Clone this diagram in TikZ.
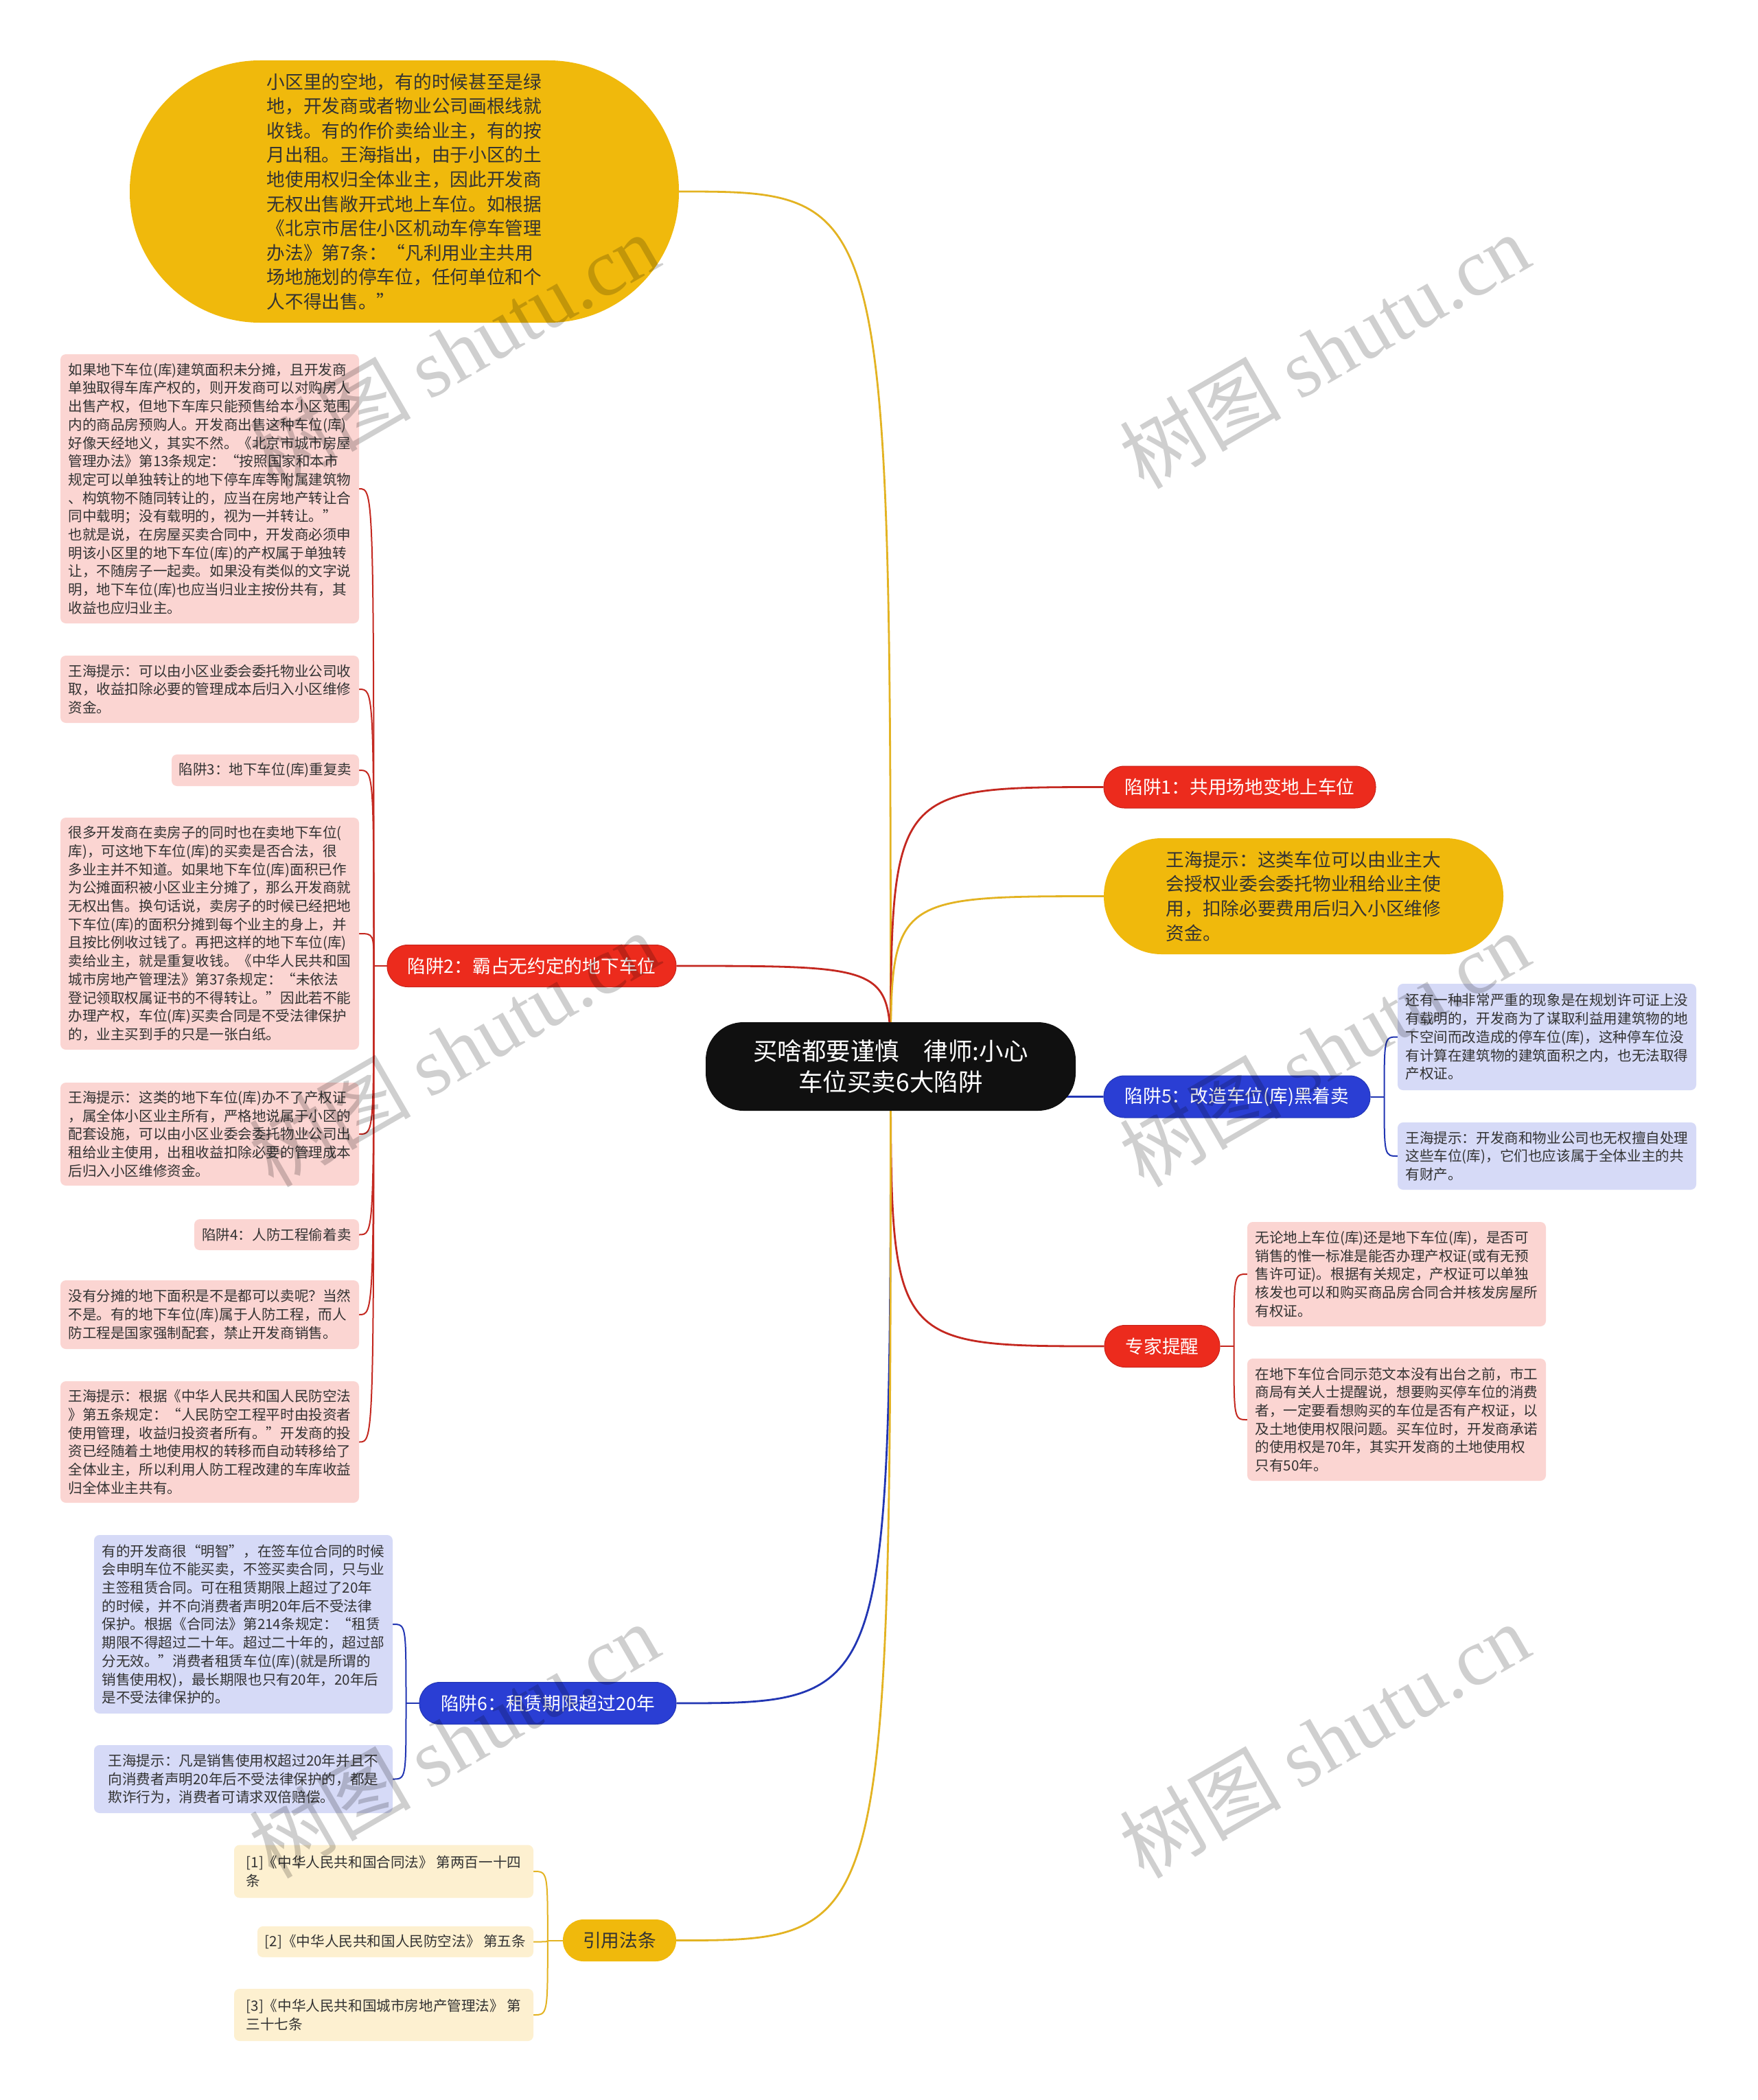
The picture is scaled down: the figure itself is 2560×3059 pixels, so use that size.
\documentclass[tikz,border=0pt]{standalone}
\usepackage{fontspec}
\setmainfont{Noto Sans CJK SC}
\newfontfamily\wmlatin{Liberation Serif}
\usetikzlibrary{calc}
\definecolor{redfill}{HTML}{EC2B1D}
\definecolor{rededge}{HTML}{C9231A}
\definecolor{redline}{HTML}{C42820}
\definecolor{ylwfill}{HTML}{F0B90C}
\definecolor{ylwline}{HTML}{E3B322}
\definecolor{bluefill}{HTML}{2A3ED4}
\definecolor{blueline}{HTML}{2236B3}
\definecolor{pinkfill}{HTML}{FBD5D2}
\definecolor{lavfill}{HTML}{D6DAF7}
\definecolor{creamfill}{HTML}{FDF0D0}
\definecolor{rootfill}{HTML}{101010}
\definecolor{txtdark}{HTML}{333333}
\newcommand\txtS{\fontsize{20.6pt}{26.7pt}\selectfont}
\newcommand\txtM{\fontsize{26.7pt}{35.6pt}\selectfont}
\newcommand\txtR{\fontsize{35.5pt}{45.5pt}\selectfont}
\pgfdeclarelayer{paper}
\pgfdeclarelayer{links}
\pgfsetlayers{paper,links,main}
\begin{document}
\begin{tikzpicture}[x=1pt,y=-1pt,
  rootn/.style={fill=rootfill,text=white,rounded corners=55pt,align=center,font=\txtR,inner sep=0pt},
  ybig/.style={fill=ylwfill,text=txtdark,align=left,font=\txtM,inner sep=0pt},
  pillred/.style={fill=redfill,draw=rededge,line width=1pt,text=white,rounded corners=30pt,font=\txtM,inner sep=0pt,minimum height=61pt},
  pillblue/.style={fill=bluefill,draw=blueline,line width=1pt,text=white,rounded corners=30pt,font=\txtM,inner sep=0pt,minimum height=61pt},
  pillylw/.style={fill=ylwfill,text=txtdark,rounded corners=30pt,font=\txtM,inner sep=0pt,minimum height=61pt},
  pinkbox/.style={fill=pinkfill,text=txtdark,rounded corners=8pt,align=left,font=\txtS,inner sep=0pt},
  lavbox/.style={fill=lavfill,text=txtdark,rounded corners=8pt,align=left,font=\txtS,inner sep=0pt},
  creambox/.style={fill=creamfill,text=txtdark,rounded corners=8pt,align=left,font=\txtS,inner sep=0pt},
  rootln/.style={line width=2.8pt},
  subln/.style={line width=2pt},
  wm/.style={rotate=30,text=black,text opacity=0.19,font=\fontsize{118pt}{118pt}\selectfont,inner sep=0pt}
]
\useasboundingbox (0,0) rectangle (2560,3059);
\begin{pgfonlayer}{paper}
\fill[white] (0,0) rectangle (2560,3059);
\end{pgfonlayer}

% root
\node[rootn,minimum width=539pt,minimum height=129pt] (root) at (1297.5,1553.5) {买啥都要谨慎　律师:小心\\车位买卖6大陷阱};

% top yellow
\node[ybig,minimum width=800pt,minimum height=382pt,rounded corners=190pt] (Y0) at (589,279) {小区里的空地，有的时候甚至是绿\\地，开发商或者物业公司画根线就\\收钱。有的作价卖给业主，有的按\\月出租。王海指出，由于小区的土\\地使用权归全体业主，因此开发商\\无权出售敞开式地上车位。如根据\\《北京市居住小区机动车停车管理\\办法》第7条：“凡利用业主共用\\场地施划的停车位，任何单位和个\\人不得出售。”};

% right side
\node[pillred,minimum width=396pt] (R1) at (1806,1146.5) {陷阱1：共用场地变地上车位};
\node[ybig,minimum width=582pt,minimum height=169pt,rounded corners=84pt] (Y1) at (1899,1305.5) {王海提示：这类车位可以由业主大\\会授权业委会委托物业租给业主使\\用，扣除必要费用后归入小区维修\\资金。};
\node[pillblue,minimum width=388pt] (B5) at (1802,1597.5) {陷阱5：改造车位(库)黑着卖};
\node[lavbox,minimum width=435pt,minimum height=155pt] (B5a) at (2253.5,1510.5) {还有一种非常严重的现象是在规划许可证上没\\有载明的，开发商为了谋取利益用建筑物的地\\下空间而改造成的停车位(库)，这种停车位没\\有计算在建筑物的建筑面积之内，也无法取得\\产权证。};
\node[lavbox,minimum width=435pt,minimum height=98pt] (B5b) at (2253.5,1684) {王海提示：开发商和物业公司也无权擅自处理\\这些车位(库)，它们也应该属于全体业主的共\\有财产。};
\node[pillred,minimum width=168pt] (E) at (1693,1961) {专家提醒};
\node[pinkbox,minimum width=435pt,minimum height=152pt] (Ea) at (2034.5,1856) {无论地上车位(库)还是地下车位(库)，是否可\\销售的惟一标准是能否办理产权证(或有无预\\售许可证)。根据有关规定，产权证可以单独\\核发也可以和购买商品房合同合并核发房屋所\\有权证。};
\node[pinkbox,minimum width=435pt,minimum height=178pt] (Eb) at (2034.5,2068) {在地下车位合同示范文本没有出台之前，市工\\商局有关人士提醒说，想要购买停车位的消费\\者，一定要看想购买的车位是否有产权证，以\\及土地使用权限问题。买车位时，开发商承诺\\的使用权是70年，其实开发商的土地使用权\\只有50年。};

% left: trap 2
\node[pillred,minimum width=421pt] (P2) at (774.5,1407) {陷阱2：霸占无约定的地下车位};
\node[pinkbox,minimum width=435pt,minimum height=392pt] (L1) at (305.5,712) {如果地下车位(库)建筑面积未分摊，且开发商\\单独取得车库产权的，则开发商可以对购房人\\出售产权，但地下车库只能预售给本小区范围\\内的商品房预购人。开发商出售这种车位(库)\\好像天经地义，其实不然。《北京市城市房屋\\管理办法》第13条规定：“按照国家和本市\\规定可以单独转让的地下停车库等附属建筑物\\、构筑物不随同转让的，应当在房地产转让合\\同中载明；没有载明的，视为一并转让。”\\也就是说，在房屋买卖合同中，开发商必须申\\明该小区里的地下车位(库)的产权属于单独转\\让，不随房子一起卖。如果没有类似的文字说\\明，地下车位(库)也应当归业主按份共有，其\\收益也应归业主。};
\node[pinkbox,minimum width=435pt,minimum height=98pt] (L2) at (305.5,1004) {王海提示：可以由小区业委会委托物业公司收\\取，收益扣除必要的管理成本后归入小区维修\\资金。};
\node[pinkbox,minimum width=273pt,minimum height=46pt] (L3) at (386.5,1122) {陷阱3：地下车位(库)重复卖};
\node[pinkbox,minimum width=435pt,minimum height=338pt] (L4) at (305.5,1360) {很多开发商在卖房子的同时也在卖地下车位(\\库)，可这地下车位(库)的买卖是否合法，很\\多业主并不知道。如果地下车位(库)面积已作\\为公摊面积被小区业主分摊了，那么开发商就\\无权出售。换句话说，卖房子的时候已经把地\\下车位(库)的面积分摊到每个业主的身上，并\\且按比例收过钱了。再把这样的地下车位(库)\\卖给业主，就是重复收钱。《中华人民共和国\\城市房地产管理法》第37条规定：“未依法\\登记领取权属证书的不得转让。”因此若不能\\办理产权，车位(库)买卖合同是不受法律保护\\的，业主买到手的只是一张白纸。};
\node[pinkbox,minimum width=435pt,minimum height=150pt] (L5) at (305.5,1652) {王海提示：这类的地下车位(库)办不了产权证\\，属全体小区业主所有，严格地说属于小区的\\配套设施，可以由小区业委会委托物业公司出\\租给业主使用，出租收益扣除必要的管理成本\\后归入小区维修资金。};
\node[pinkbox,minimum width=240pt,minimum height=45pt] (L6) at (403,1798.5) {陷阱4：人防工程偷着卖};
\node[pinkbox,minimum width=435pt,minimum height=100pt] (L7) at (305.5,1915) {没有分摊的地下面积是不是都可以卖呢？当然\\不是。有的地下车位(库)属于人防工程，而人\\防工程是国家强制配套，禁止开发商销售。};
\node[pinkbox,minimum width=435pt,minimum height=177pt] (L8) at (305.5,2100.5) {王海提示：根据《中华人民共和国人民防空法\\》第五条规定：“人民防空工程平时由投资者\\使用管理，收益归投资者所有。”开发商的投\\资已经随着土地使用权的转移而自动转移给了\\全体业主，所以利用人防工程改建的车库收益\\归全体业主共有。};

% left: trap 6
\node[pillblue,minimum width=374pt] (P6) at (798,2481) {陷阱6：租赁期限超过20年};
\node[lavbox,minimum width=435pt,minimum height=260pt] (BL1) at (354.5,2366) {有的开发商很“明智”，在签车位合同的时候\\会申明车位不能买卖，不签买卖合同，只与业\\主签租赁合同。可在租赁期限上超过了20年\\的时候，并不向消费者声明20年后不受法律\\保护。根据《合同法》第214条规定：“租赁\\期限不得超过二十年。超过二十年的，超过部\\分无效。”消费者租赁车位(库)(就是所谓的\\销售使用权)，最长期限也只有20年，20年后\\是不受法律保护的。};
\node[lavbox,minimum width=435pt,minimum height=99pt] (BL2) at (354.5,2591.5) {王海提示：凡是销售使用权超过20年并且不\\向消费者声明20年后不受法律保护的，都是\\欺诈行为，消费者可请求双倍赔偿。};

% citations
\node[pillylw,minimum width=165pt] (Cite) at (902.5,2826.5) {引用法条};
\node[creambox,minimum width=436pt,minimum height=77pt] (C1) at (559,2726) {[1]《中华人民共和国合同法》 第两百一十四\\条};
\node[creambox,minimum width=402pt,minimum height=45pt] (C2) at (576,2828.5) {[2]《中华人民共和国人民防空法》 第五条};
\node[creambox,minimum width=436pt,minimum height=76pt] (C3) at (559,2935) {[3]《中华人民共和国城市房地产管理法》 第\\三十七条};

% connectors
\begin{pgfonlayer}{links}
\draw[ylwline,rootln] (root.center) .. controls (root.center |- Y0.east) .. (Y0.east);
\draw[redline,rootln] (root.center) .. controls (root.center |- R1.west) .. (R1.west);
\draw[ylwline,rootln] (root.center) .. controls (root.center |- Y1.west) .. (Y1.west);
\draw[redline,rootln] (root.center) .. controls (root.center |- P2.east) .. (P2.east);
\draw[blueline,rootln] (root.center) .. controls (root.center |- B5.west) .. (B5.west);
\draw[redline,rootln] (root.center) .. controls (root.center |- E.west) .. (E.west);
\draw[blueline,rootln] (root.center) .. controls (root.center |- P6.east) .. (P6.east);
\draw[ylwline,rootln] (root.center) .. controls (root.center |- Cite.east) .. (Cite.east);

\coordinate (J2) at ($(P2.west)+(-19,0)$);
\draw[redline,subln] (P2.west) -- (J2);
\foreach \c in {L1,L2,L3,L4,L5,L6,L7,L8}
  \draw[redline,subln] (J2) .. controls (J2 |- \c.east) .. (\c.east);

\coordinate (J5) at ($(B5.east)+(20,0)$);
\draw[blueline,subln] (B5.east) -- (J5);
\foreach \c in {B5a,B5b}
  \draw[blueline,subln] (J5) .. controls (J5 |- \c.west) .. (\c.west);

\coordinate (JE) at ($(E.east)+(20,0)$);
\draw[redline,subln] (E.east) -- (JE);
\foreach \c in {Ea,Eb}
  \draw[redline,subln] (JE) .. controls (JE |- \c.west) .. (\c.west);

\coordinate (J6) at ($(P6.west)+(-19,0)$);
\draw[blueline,subln] (P6.west) -- (J6);
\foreach \c in {BL1,BL2}
  \draw[blueline,subln] (J6) .. controls (J6 |- \c.east) .. (\c.east);

\coordinate (JC) at ($(Cite.west)+(-22,0)$);
\draw[ylwline,subln] (Cite.west) -- (JC);
\foreach \c in {C1,C2,C3}
  \draw[ylwline,subln] (JC) .. controls (JC |- \c.east) .. (\c.east);
\end{pgfonlayer}

% watermarks
\node[wm] (wm1) at (661,511) {树图 {\wmlatin shutu.cn}};
\node[wm] (wm2) at (1929,511) {树图 {\wmlatin shutu.cn}};
\node[wm] (wm3) at (661,1528) {树图 {\wmlatin shutu.cn}};
\node[wm] (wm4) at (1929,1528) {树图 {\wmlatin shutu.cn}};
\node[wm] (wm5) at (661,2535) {树图 {\wmlatin shutu.cn}};
\node[wm] (wm6) at (1929,2535) {树图 {\wmlatin shutu.cn}};
\end{tikzpicture}
\end{document}
